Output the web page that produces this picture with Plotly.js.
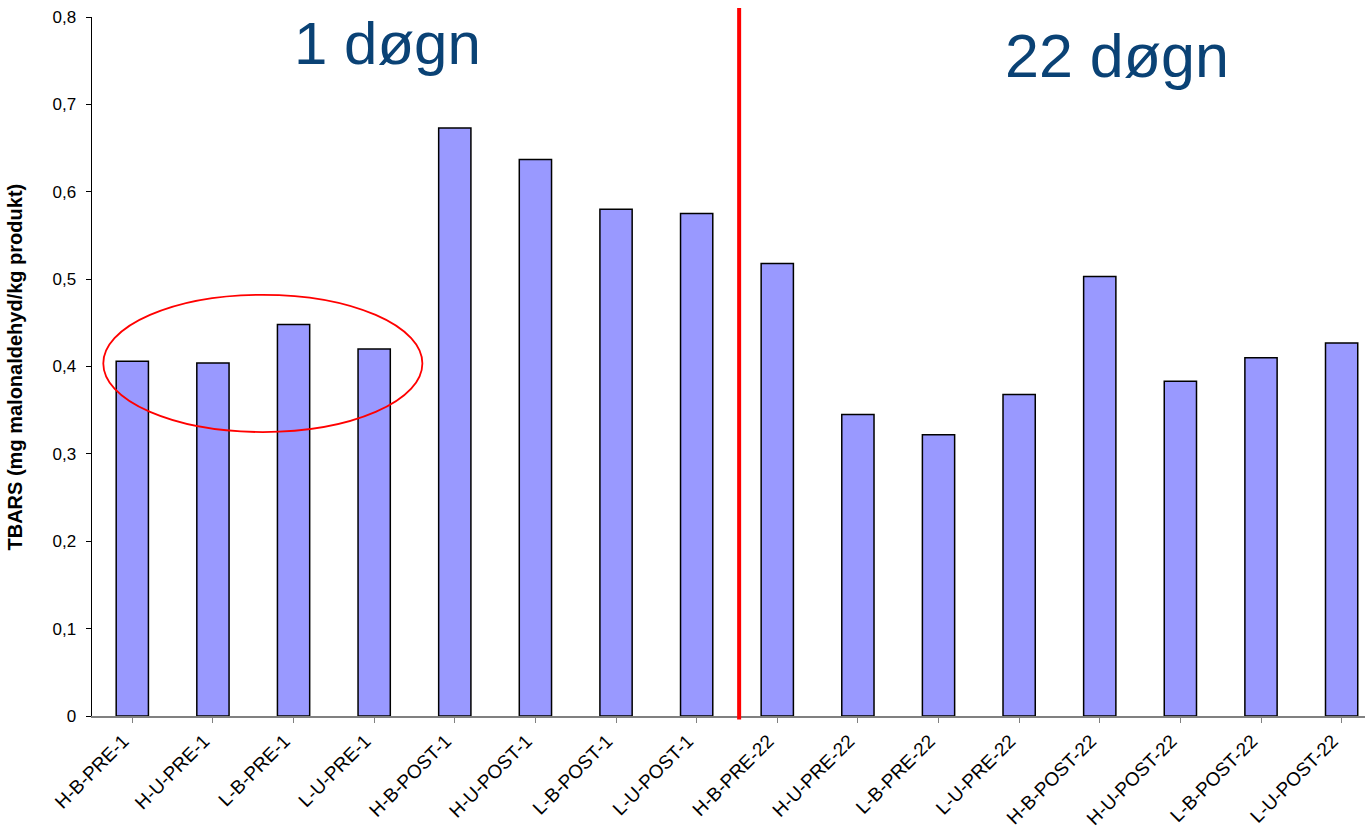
<!DOCTYPE html>
<html>
<head>
<meta charset="utf-8">
<script src="https://cdn.plot.ly/plotly-3.0.1.min.js"></script>
<style>html,body{margin:0;padding:0;background:#fff;}#chart{width:1365px;height:832px;}</style>
</head>
<body>
<div id="chart"></div>
<script>
const categories = ["H-B-PRE-1","H-U-PRE-1","L-B-PRE-1","L-U-PRE-1","H-B-POST-1","H-U-POST-1","L-B-POST-1","L-U-POST-1",
  "H-B-PRE-22","H-U-PRE-22","L-B-PRE-22","L-U-PRE-22","H-B-POST-22","H-U-POST-22","L-B-POST-22","L-U-POST-22"];
const tbars = [0.406,0.404,0.448,0.420,0.673,0.637,0.580,0.575,0.518,0.345,0.322,0.368,0.503,0.383,0.410,0.427];
const yTickVals = [0,0.1,0.2,0.3,0.4,0.5,0.6,0.7,0.8];
const yTickText = ["0","0,1","0,2","0,3","0,4","0,5","0,6","0,7","0,8"];
const periodLabels = ["1 døgn","22 døgn"];
const yTitle = "TBARS (mg malonaldehyd/kg produkt)";

const xIdx = categories.map((c,i)=>i);

const trace = {
  type:'bar', x:xIdx, y:tbars,
  marker:{color:'#9999FF', line:{color:'#000000', width:1.5}},
  hoverinfo:'skip'
};

const layout = {
  width:1365, height:832,
  margin:{l:92, r:0, t:17.3, b:116.3},
  paper_bgcolor:'#ffffff', plot_bgcolor:'#ffffff',
  font:{family:'"Liberation Sans", Arial, sans-serif', color:'#000000'},
  showlegend:false,
  bargap:0.6,
  xaxis:{
    range:[-0.5,15.29], tickmode:'array', tickvals:xIdx, ticktext:categories,
    tickangle:-45, tickfont:{size:19}, ticks:'outside', ticklen:5, tickcolor:'#808080',
    tickson:'boundaries', automargin:false, ticklabelshift:-9,
    showline:true, linecolor:'#808080', linewidth:1.5, showgrid:false, zeroline:false
  },
  yaxis:{
    range:[0,0.8], tickmode:'array', tickvals:yTickVals, ticktext:yTickText,
    tickfont:{size:17}, ticks:'outside', ticklen:5, tickcolor:'#000000', ticklabelstandoff:6,
    automargin:false,
    showline:true, linecolor:'#000000', linewidth:1.5, showgrid:false, zeroline:false
  },
  shapes:[
    {type:'line', xref:'x', yref:'paper', x0:7.527, x1:7.527, y0:-0.005, y1:1.013,
     line:{color:'#FF0000', width:4}},
    {type:'circle', xref:'x', yref:'y', x0:-0.36, x1:3.598, y0:0.325, y1:0.482,
     line:{color:'#FF0000', width:1.8}}
  ],
  annotations:[
    {text:periodLabels[0], xref:'x', yref:'paper', x:3.17, y:0.962, yanchor:'middle', xanchor:'center',
     showarrow:false, font:{size:60, color:'#0A4275'}},
    {text:periodLabels[1], xref:'x', yref:'paper', x:12.21, y:0.944, yanchor:'middle', xanchor:'center',
     showarrow:false, font:{size:61, color:'#0A4275'}},
    {text:'<b>'+yTitle+'</b>', xref:'paper', yref:'paper', x:-0.0605, y:0.5, xanchor:'center', yanchor:'middle',
     textangle:-90, showarrow:false, font:{size:20, color:'#000000'}}
  ]
};

Plotly.newPlot('chart',[trace],layout,{displayModeBar:false, staticPlot:true});
</script>
</body>
</html>
